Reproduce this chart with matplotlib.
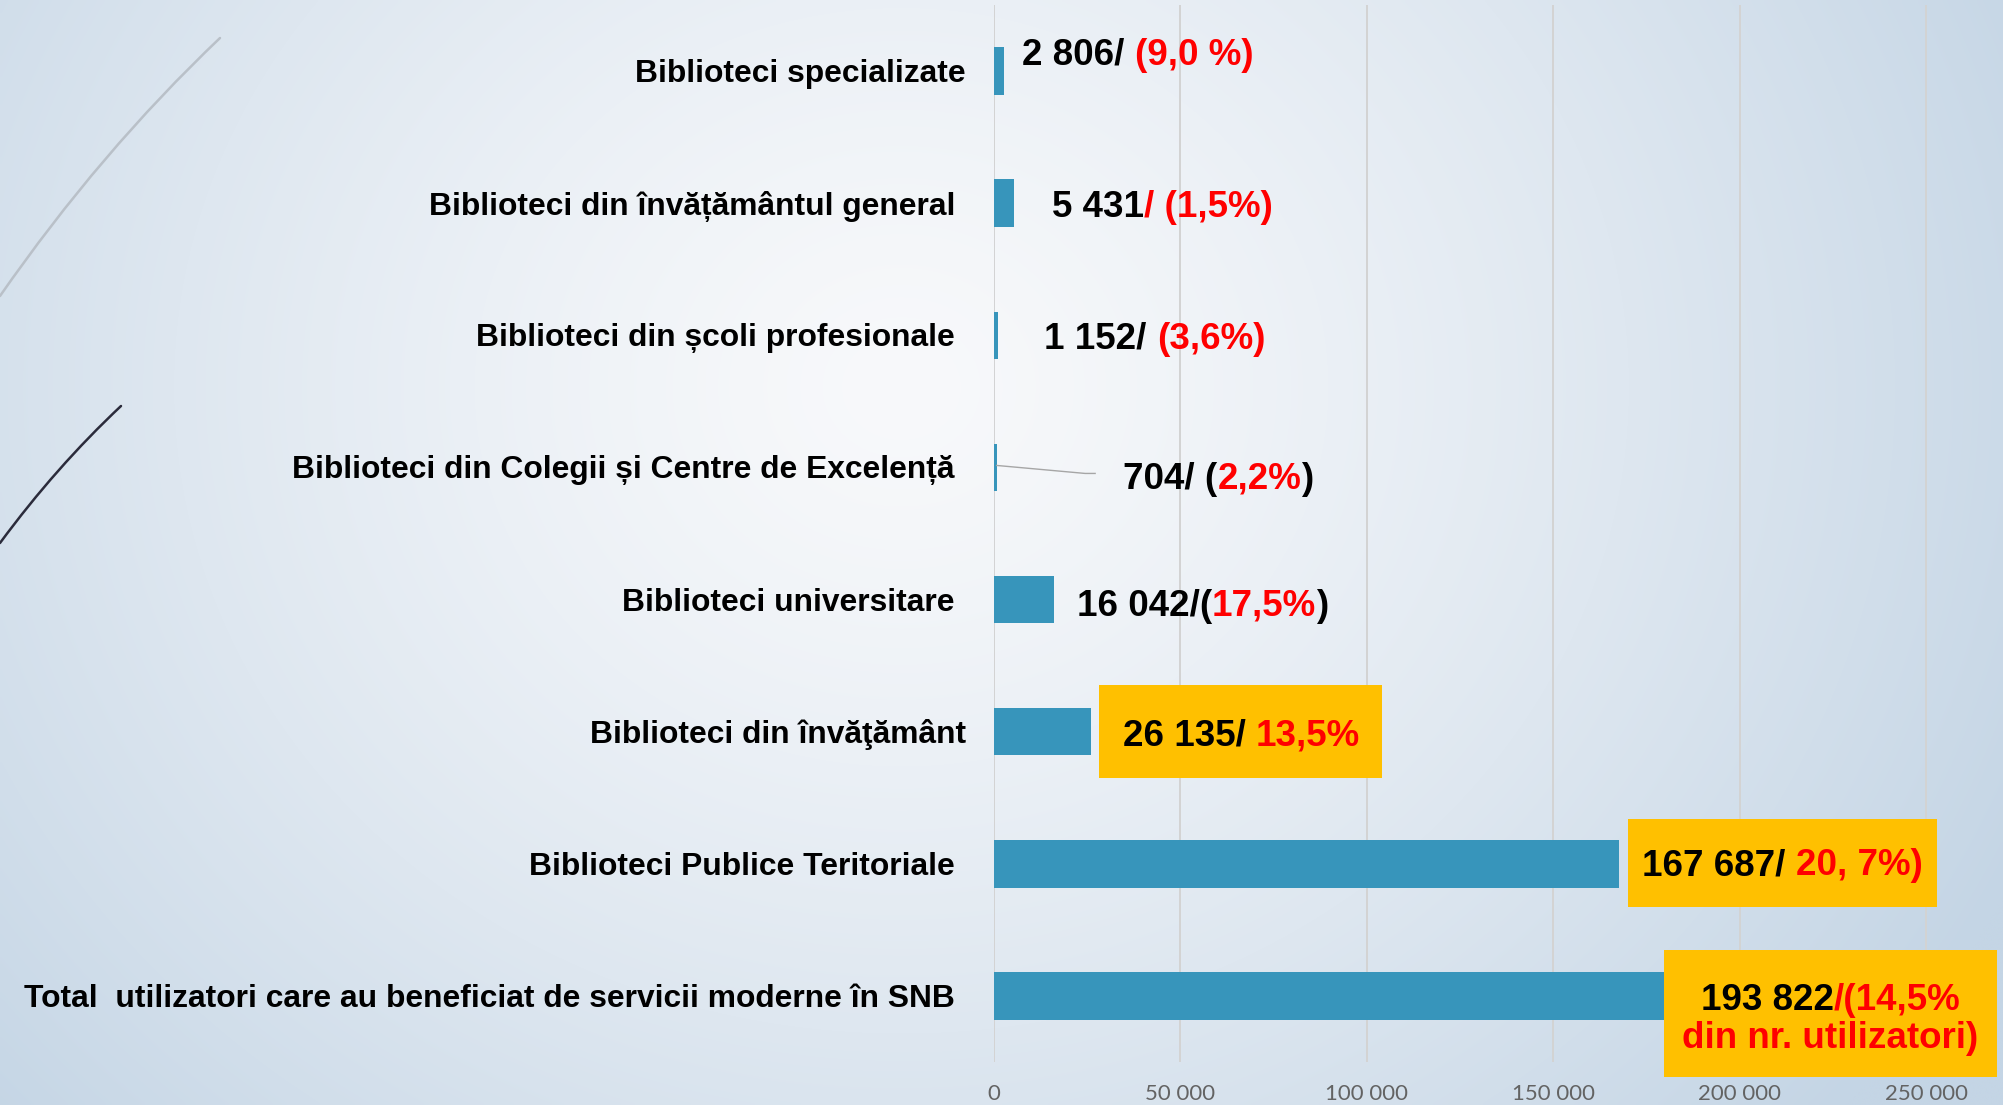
import matplotlib
matplotlib.use("Agg")
import matplotlib.pyplot as plt
import matplotlib.transforms as mtransforms
from matplotlib.patches import Rectangle, PathPatch
from matplotlib.path import Path
import numpy as np

plt.rcParams['font.family'] = ['Liberation Sans', 'DejaVu Sans']

# ---- data (top to bottom as in the slide) ----
categories = [
    "Biblioteci specializate",
    "Biblioteci din învățământul general",
    "Biblioteci din școli profesionale",
    "Biblioteci din Colegii și Centre de Excelență",
    "Biblioteci universitare",
    "Biblioteci din învăţământ",
    "Biblioteci Publice Teritoriale",
    "Total  utilizatori care au beneficiat de servicii moderne în SNB",
]
values = [2806, 5431, 1152, 704, 16042, 26135, 167687, 193822]

BLACK, RED = "black", "#ff0000"
value_labels = [
    [[("2 806/ ", BLACK), ("(9,0 %)", RED)]],
    [[("5 431", BLACK), ("/ (1,5%)", RED)]],
    [[("1 152/ ", BLACK), ("(3,6%)", RED)]],
    [[("704/ (", BLACK), ("2,2%", RED), (")", BLACK)]],
    [[("16 042/(", BLACK), ("17,5%", RED), (")", BLACK)]],
    [[("26 135/ ", BLACK), ("13,5%", RED)]],
    [[("167 687/ ", BLACK), ("20, 7%)", RED)]],
    [[("193 822", BLACK), ("/(14,5%", RED)], [("din nr. utilizatori)", RED)]],
]

x_ticks = [0, 50000, 100000, 150000, 200000, 250000]
x_tick_labels = ["0", "50 000", "100 000", "150 000", "200 000", "250 000"]

# ---- layout (pixels relative to bar end / bar centre, y down) ----
PX = 0.72  # points per pixel at dpi 100
cat_pad = [28, 39, 39, 39, 39, 28, 39, 39]
lab_ha = ["left", "left", "left", "left", "left", "center", "center", "center"]
lab_off = [(17.5, -15.8), (38, 4.7), (46, 3.7), (126.4, 11.7),
           (23, 6.7), (150, 4.7), (163, 1.7), (113.5, 4.7)]
line_gap = 38
boxes = [None, None, None, None, None,
         (7.5, -47, 290.5, 46), (8.5, -45, 317.5, 43), (-53, -46, 280, 81)]
BOX_COLOR = "#ffc000"
BAR_COLOR = "#3795bb"

fig = plt.figure(figsize=(20.03, 11.05), dpi=100)

# background gradient
bg = fig.add_axes([0, 0, 1, 1])
yy, xx = np.mgrid[0:1:300j, 0:1:540j]
d = np.sqrt(((xx - 0.45) / 0.62) ** 2 + ((yy - 0.35) / 1.0) ** 2)
t = np.clip(d, 0, 1) ** 1.3
c0 = np.array([248, 249, 251]) / 255
c1 = np.array([196, 213, 229]) / 255
img = c0[None, None, :] * (1 - t[..., None]) + c1[None, None, :] * t[..., None]
bg.imshow(img, aspect="auto", extent=[0, 1, 0, 1], interpolation="bilinear")
bg.axis("off")


# decorative swooshes in the top-left corner
def swoosh(p0, pc, p1, color, lw):
    W, H = 2003, 1105
    pts = [(x / W, 1 - y / H) for x, y in (p0, pc, p1)]
    path = Path(pts, [Path.MOVETO, Path.CURVE3, Path.CURVE3])
    fig.add_artist(PathPatch(path, transform=fig.transFigure, fill=False,
                             edgecolor=color, lw=lw, capstyle="round"))


swoosh((0, 296), (100, 152), (220, 38), "#b9c0c8", 1.8)
swoosh((0, 543), (56, 467), (121, 406), "#2b2b3b", 1.8)

ax = fig.add_axes([994 / 2003, 43 / 1105, 1007 / 2003, 1057 / 1105])
ax.set_facecolor("none")
n = len(categories)
ypos = [n - 1 - i for i in range(n)]

ax.barh(ypos, values, height=0.36, color=BAR_COLOR, zorder=2)
ax.set_xlim(0, 270000)
ax.set_ylim(-0.5, n - 0.5)
ax.set_xticks(x_ticks)
ax.set_xticklabels(x_tick_labels, fontfamily=["Lato", "DejaVu Sans"],
                   fontsize=16, color="#636363")
ax.tick_params(axis="x", length=0, pad=16)
ax.set_yticks([])
ax.grid(axis="x", color="#d3d3d3", lw=1.4)
ax.set_axisbelow(True)
for s in ax.spines.values():
    s.set_visible(False)

# category labels
for i, cat in enumerate(categories):
    ax.annotate(cat, xy=(0, ypos[i]), xycoords=("axes fraction", "data"),
                xytext=(-cat_pad[i] * PX, -2.2), textcoords="offset points",
                ha="right", va="center", fontsize=22.9, fontweight="bold")

VFONT = dict(fontsize=26.5, fontweight="bold")
renderer = fig.canvas.get_renderer()


def measure(s):
    """width of s and baseline position relative to its centre (pixels)"""
    tc = ax.text(0, 0, s, va="center", **VFONT)
    tb = ax.text(0, 0, s, va="baseline", **VFONT)
    bc = tc.get_window_extent(renderer)
    bb = tb.get_window_extent(renderer)
    tc.remove()
    tb.remove()
    return bc.width, bc.y0 - bb.y0


def rich(xy, parts, dx, dy, ha):
    full = "".join(p[0] for p in parts)
    w_full, base = measure(full)
    left = dx if ha == "left" else dx - w_full / 2
    for k, (txt, col) in enumerate(parts):
        if k == 0:
            xk = 0
        else:
            suffix = "".join(p[0] for p in parts[k:])
            xk = w_full - measure(suffix)[0]
        ax.annotate(txt, xy=xy, xytext=((left + xk) * PX, (-dy + base) * PX),
                    textcoords="offset points", ha="left", va="baseline",
                    color=col, zorder=6, annotation_clip=False, **VFONT)


for i, lines in enumerate(value_labels):
    anchor = (values[i], ypos[i])
    off = mtransforms.ScaledTranslation(values[i], ypos[i], ax.transData)
    if boxes[i] is not None:
        l, tp, r, b = boxes[i]
        ax.add_patch(Rectangle((l / 100, -b / 100), (r - l) / 100, (b - tp) / 100,
                               transform=fig.dpi_scale_trans + off,
                               facecolor=BOX_COLOR, edgecolor="none",
                               zorder=5, clip_on=False))
    for k, parts in enumerate(lines):
        dx, dy = lab_off[i]
        rich(anchor, parts, dx, dy + k * line_gap, lab_ha[i])

# leader line for the tiny "Colegii" bar
ci = 3
off = mtransforms.ScaledTranslation(values[ci], ypos[ci], ax.transData)
ax.plot([0, 0.885, 0.985], [0.02, -0.06, -0.06], color="#a6a6a6", lw=1.0,
        transform=fig.dpi_scale_trans + off, clip_on=False, zorder=3)

fig.savefig("out.png", dpi=100)
